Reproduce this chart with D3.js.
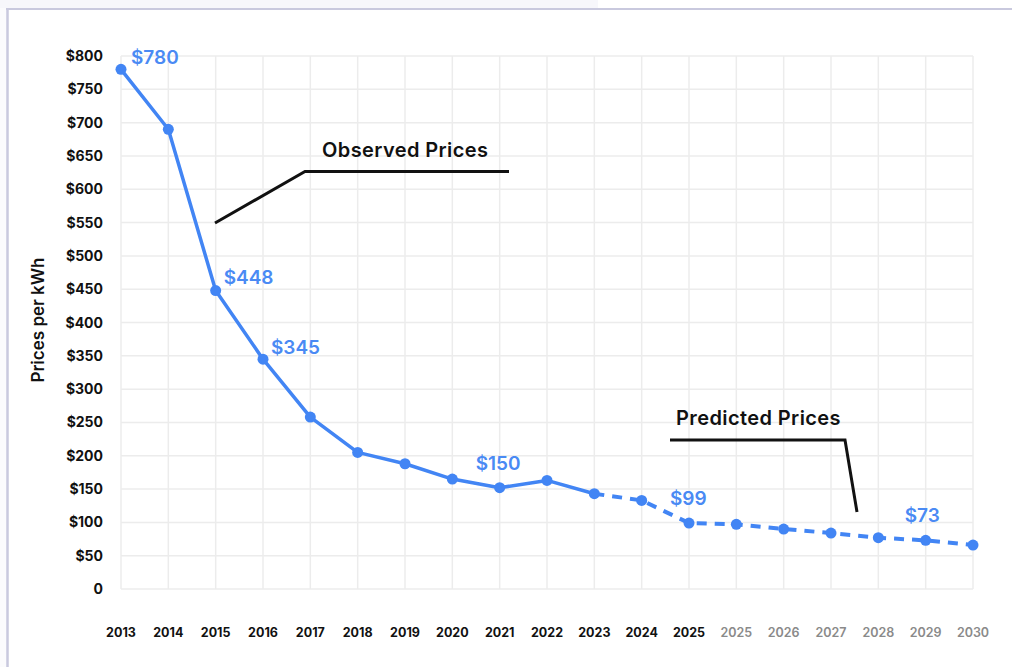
<!DOCTYPE html>
<html lang="en">
<head>
<meta charset="UTF-8">
<title>Battery Prices per kWh</title>
<script src="https://d3js.org/d3.v7.min.js"></script>
<style>
  html, body { margin: 0; padding: 0; background: #fff; }
  svg { display: block; font-family: Inter, "Noto Sans", sans-serif; }
</style>
</head>
<body>
<svg id="chart" width="1012" height="667"></svg>
<script>
// data
const years = ["2013", "2014", "2015", "2016", "2017", "2018", "2019", "2020", "2021", "2022",
               "2023", "2024", "2025", "2025 ", "2026", "2027", "2028", "2029", "2030"];
const prices = [780, 690, 448, 345, 258, 205, 188, 165, 152, 163,
                143, 133, 99, 97, 90, 84, 77, 73, 66];
const observedEnd = 10;   // last observed point (2023)
const boldTicks = 13;     // first 13 year labels are dark
const yTicks = d3.range(0, 801, 50);
const valueLabels = [
  { i: 0, text: "$780", dx: 10, dy: -12 },
  { i: 2, text: "$448", dx: 8, dy: -13 },
  { i: 3, text: "$345", dx: 8, dy: -12 },
  { i: 8, text: "$150", dx: -24, dy: -25 },
  { i: 12, text: "$99", dx: -19, dy: -25 },
  { i: 17, text: "$73", dx: -21, dy: -25 }
];

const svg = d3.select("#chart");
const blue = "#4285f4";

// page frame
svg.append("rect").attr("x", 0).attr("y", 0).attr("width", 598).attr("height", 8).attr("fill", "#f7f7fb");
svg.append("rect").attr("x", 0).attr("y", 8).attr("width", 7).attr("height", 659).attr("fill", "#fbfbfd");
svg.append("line").attr("x1", 6).attr("x2", 1012).attr("y1", 9).attr("y2", 9)
  .attr("stroke", "#c9c9de").attr("stroke-width", 2);
svg.append("line").attr("x1", 7.5).attr("x2", 7.5).attr("y1", 8).attr("y2", 667)
  .attr("stroke", "#c9c9de").attr("stroke-width", 2.5);

const x = d3.scalePoint().domain(years).range([121, 973]);
const y = d3.scaleLinear().domain([0, 800]).range([589, 56]);

// grid
const grid = svg.append("g");
grid.selectAll("line.h").data(yTicks).enter().append("line")
  .attr("x1", x.range()[0]).attr("x2", x.range()[1])
  .attr("y1", d => y(d)).attr("y2", d => y(d))
  .attr("stroke", "#ececec").attr("stroke-width", 1.5);
grid.selectAll("line.v").data(years).enter().append("line")
  .attr("x1", d => x(d)).attr("x2", d => x(d))
  .attr("y1", y(800)).attr("y2", y(0))
  .attr("stroke", "#ececec").attr("stroke-width", 1.5);

// y axis labels
svg.append("g").selectAll("text").data(yTicks).enter().append("text")
  .attr("x", 103).attr("y", d => y(d)).attr("dy", "0.36em")
  .attr("text-anchor", "end")
  .attr("font-size", 14).attr("font-weight", 700).attr("fill", "#111")
  .text(d => d === 0 ? "0" : "$" + d);

// x axis labels
svg.append("g").selectAll("text").data(years).enter().append("text")
  .attr("x", d => x(d)).attr("y", 632).attr("dy", "0.36em")
  .attr("text-anchor", "middle")
  .attr("font-size", 12.5)
  .attr("font-weight", (d, i) => i < boldTicks ? 700 : 600)
  .attr("fill", (d, i) => i < boldTicks ? "#111" : "#8a8a8a")
  .text(d => d.trim());

// y axis title
svg.append("text")
  .attr("transform", "translate(44,320) rotate(-90)")
  .attr("text-anchor", "middle")
  .attr("font-size", 17).attr("font-weight", 600).attr("fill", "#111")
  .text("Prices per kWh");

const pts = years.map((yr, i) => ({ yr, v: prices[i], i }));
const line = d3.line().x(d => x(d.yr)).y(d => y(d.v));

svg.append("path").datum(pts.slice(0, observedEnd + 1))
  .attr("d", line).attr("fill", "none")
  .attr("stroke", blue).attr("stroke-width", 3.5).attr("stroke-linejoin", "round");
svg.append("path").datum(pts.slice(observedEnd))
  .attr("d", line).attr("fill", "none")
  .attr("stroke", blue).attr("stroke-width", 4).attr("stroke-dasharray", "10 8");

svg.append("g").selectAll("circle").data(pts).enter().append("circle")
  .attr("cx", d => x(d.yr)).attr("cy", d => y(d.v)).attr("r", 5.5)
  .attr("fill", blue);

// value labels
svg.append("g").selectAll("text").data(valueLabels).enter().append("text")
  .attr("x", d => x(years[d.i]) + d.dx)
  .attr("y", d => y(prices[d.i]) + d.dy)
  .attr("dy", "0.36em")
  .attr("font-size", 19).attr("font-weight", 600).attr("fill", "#4a8af4")
  .text(d => d.text);

// annotations
svg.append("polyline")
  .attr("points", "215,223 305,171.5 509,171.5")
  .attr("fill", "none").attr("stroke", "#111").attr("stroke-width", 3);
svg.append("text").attr("x", 322).attr("y", 150).attr("dy", "0.36em")
  .attr("font-size", 20).attr("font-weight", 600).attr("fill", "#111")
  .attr("letter-spacing", 0.4)
  .text("Observed Prices");

svg.append("polyline")
  .attr("points", "670,440 845,440 857,512")
  .attr("fill", "none").attr("stroke", "#111").attr("stroke-width", 3);
svg.append("text").attr("x", 676).attr("y", 418).attr("dy", "0.36em")
  .attr("font-size", 20).attr("font-weight", 600).attr("fill", "#111")
  .attr("letter-spacing", 0.4)
  .text("Predicted Prices");
</script>
</body>
</html>
